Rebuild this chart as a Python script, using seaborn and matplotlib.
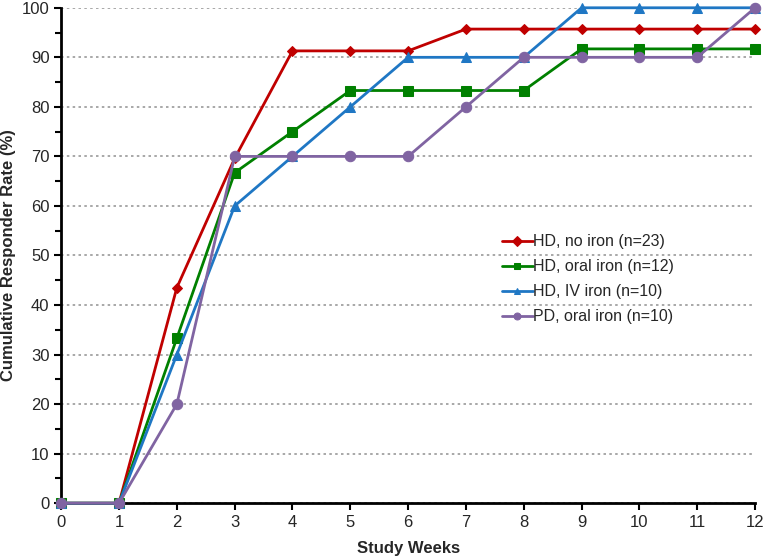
import pandas as pd
import matplotlib.pyplot as plt
import seaborn as sns
from matplotlib.ticker import MultipleLocator

# Cumulative responder rate by study week
weeks = list(range(13))
no_iron = [0, 0, 43.5, 69.6, 91.3, 91.3, 91.3, 95.7, 95.7, 95.7, 95.7, 95.7, 95.7]
oral_iron = [0, 0, 33.3, 66.7, 75.0, 83.3, 83.3, 83.3, 83.3, 91.7, 91.7, 91.7, 91.7]
iv_iron = [0, 0, 30, 60, 70, 80, 90, 90, 90, 100, 100, 100, 100]
pd_oral_iron = [0, 0, 20, 70, 70, 70, 70, 80, 90, 90, 90, 90, 100]

labels = ['HD, no iron (n=23)', 'HD, oral iron (n=12)', 'HD, IV iron (n=10)', 'PD, oral iron (n=10)']
series = [no_iron, oral_iron, iv_iron, pd_oral_iron]

frames = []
for lab, vals in zip(labels, series):
    frames.append(pd.DataFrame({'week': weeks, 'rate': vals, 'group': lab}))
df = pd.concat(frames, ignore_index=True)

colors = ['#C00000', '#008000', '#1F77C4', '#8064A2']
markers = ['D', 's', '^', 'o']
msizes = [5, 7, 7, 7.5]

sns.set_style('white')
plt.rcParams['font.family'] = ['Liberation Sans', 'DejaVu Sans']

fig = plt.figure(figsize=(7.65, 5.56), dpi=100)
ax = fig.add_axes([0.08, 0.095, 0.907, 0.891])

for lab, c, m, ms in zip(labels, colors, markers, msizes):
    sns.lineplot(data=df[df['group'] == lab], x='week', y='rate', color=c, marker=m,
                 markersize=ms, markeredgecolor=c, linewidth=2, label=lab, ax=ax,
                 clip_on=False, zorder=3)

ax.set_xlim(0, 12)
ax.set_ylim(0, 100)
ax.xaxis.set_major_locator(MultipleLocator(1))
ax.yaxis.set_major_locator(MultipleLocator(10))
ax.yaxis.set_minor_locator(MultipleLocator(5))
ax.grid(axis='y', which='major', color='#999999', linestyle=(0, (1.5, 2)), linewidth=1.2)
ax.grid(axis='x', visible=False)

for s in ['top', 'right']:
    ax.spines[s].set_visible(False)
for s in ['left', 'bottom']:
    ax.spines[s].set_color('black')
    ax.spines[s].set_linewidth(2)

ax.tick_params(axis='both', which='major', direction='out', length=5, width=1.5,
               color='black', labelsize=12, left=True, bottom=True)
ax.tick_params(axis='y', which='minor', direction='out', length=4, width=1.5,
               color='black', left=True)

ax.set_xlabel('Study Weeks', fontsize=12, fontweight='bold', labelpad=8)
ax.set_ylabel('Cumulative Responder Rate (%)', fontsize=12, fontweight='bold')

leg = ax.legend(loc='center left', bbox_to_anchor=(0.615, 0.452), frameon=False, fontsize=11.5,
                handlelength=1.9, handletextpad=0.05, labelspacing=0.62)
for h in leg.legend_handles:
    h.set_markersize(5)

plt.savefig('out.png', dpi=100)
